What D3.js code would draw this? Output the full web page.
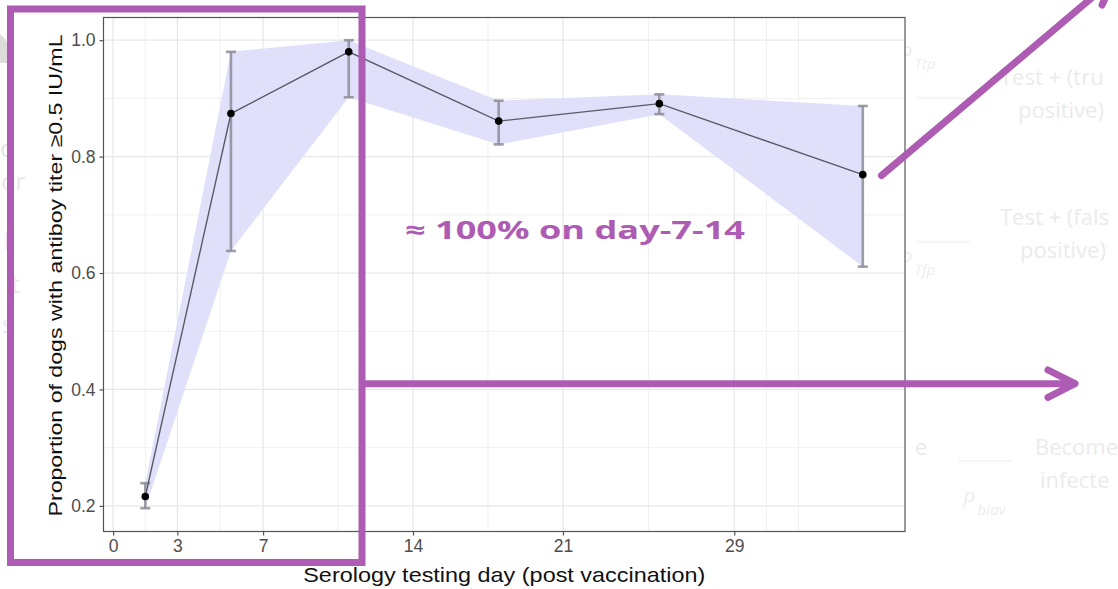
<!DOCTYPE html>
<html>
<head>
<meta charset="utf-8">
<script src="https://cdn.jsdelivr.net/npm/d3@7"></script>
<style>
  html, body { margin: 0; padding: 0; background: #ffffff; }
  svg { display: block; }
</style>
</head>
<body>
<svg id="chart" width="1118" height="589"></svg>
<script>
// Serology testing: proportion of dogs with antibody titer >= 0.5 IU/mL
const days       = [1.5, 5.5, 11, 18, 25.5, 35];
const proportion = [0.216, 0.874, 0.980, 0.861, 0.891, 0.769];
const lower      = [0.196, 0.638, 0.902, 0.821, 0.873, 0.611];
const upper      = [0.239, 0.980, 1.000, 0.896, 0.907, 0.887];

const xTicks      = [0, 3, 7, 14, 21, 29];
const xMinorTicks = [1.5, 5, 10.5, 17.5, 25, 30.5, 32];
const yTicks      = [0.2, 0.4, 0.6, 0.8, 1.0];
const yMinorTicks = [0.3, 0.5, 0.7, 0.9];

const xTitle = "Serology testing day (post vaccination)";
const yTitle = "Proportion of dogs with antiboy titer \u22650.5 IU/mL";
const callout = "\u2248 100% on day-7-14";

const rows = days.map((d, i) => ({ day: d, p: proportion[i], lo: lower[i], hi: upper[i] }));

const svg = d3.select("#chart");
const panel = { left: 103.5, right: 905, top: 17.5, bottom: 531.5 };

const x = d3.scaleLinear().domain([-0.45, 36.97]).range([panel.left, panel.right]);
const y = d3.scaleLinear().domain([0.156, 1.039]).range([panel.bottom, panel.top]);

// faint slide diagram behind the plot
const faint = svg.append("g").attr("font-family", "'Open Sans', 'Noto Sans', sans-serif");
const fText = [
  { t: "Test + (tru", x: 1000, y: 85, s: 22 },
  { t: "positive)", x: 1018, y: 118, s: 22 },
  { t: "Test + (fals", x: 1000, y: 225, s: 22 },
  { t: "positive)", x: 1020, y: 258, s: 22 },
  { t: "Become", x: 1035, y: 455, s: 22 },
  { t: "infecte", x: 1040, y: 488, s: 22 },
  { t: "e", x: 915, y: 455, s: 22 }
];
faint.selectAll("text.f").data(fText).join("text")
  .attr("class", "f")
  .attr("x", d => d.x).attr("y", d => d.y)
  .attr("font-size", d => d.s)
  .attr("fill", "#ebebeb")
  .text(d => d.t);
const pLabels = [
  { sub: "Ttp", x: 899, y: 62 },
  { sub: "Tfp", x: 899, y: 268 },
  { sub: "biav", x: 962, y: 508 }
];
pLabels.forEach(p => {
  const t = faint.append("text")
    .attr("x", p.x).attr("y", p.y)
    .attr("font-size", 22).attr("font-style", "italic").attr("fill", "#eeeeee");
  t.append("tspan").text("P");
  t.append("tspan").attr("dy", 7).attr("dx", 3).attr("font-size", 15).text(p.sub);
});
[[917, 970, 98], [917, 970, 242], [958, 1012, 461]].forEach(s => {
  faint.append("line").attr("x1", s[0]).attr("x2", s[1]).attr("y1", s[2]).attr("y2", s[2])
    .attr("stroke", "#eeeeee").attr("stroke-width", 1.2);
});
// fragments at the left margin
faint.append("path").attr("d", "M0,34 L6,40 L9,50 L8,63 L0,63 Z").attr("fill", "#dcdcdc");
[
  { t: "o", x: 0, y: 157, c: "#e4e4e4" },
  { t: "or", x: 1, y: 190, c: "#e8e8e8" },
  { t: "ll", x: 4, y: 250, c: "#f1dcef" },
  { t: "it", x: 5, y: 293, c: "#f3e2f1" },
  { t: "s", x: 2, y: 333, c: "#f3e2f1" }
].forEach(d => {
  faint.append("text").attr("x", d.x).attr("y", d.y).attr("font-size", 24)
    .attr("fill", d.c).text(d.t);
});

// panel background
svg.append("rect")
  .attr("x", panel.left).attr("y", panel.top)
  .attr("width", panel.right - panel.left).attr("height", panel.bottom - panel.top)
  .attr("fill", "#ffffff");

// grid
const grid = svg.append("g");
grid.selectAll("line.ymin").data(yMinorTicks).join("line")
  .attr("x1", panel.left).attr("x2", panel.right)
  .attr("y1", d => y(d)).attr("y2", d => y(d))
  .attr("stroke", "#f0f0f0").attr("stroke-width", 1);
grid.selectAll("line.xmin").data(xMinorTicks).join("line")
  .attr("y1", panel.top).attr("y2", panel.bottom)
  .attr("x1", d => x(d)).attr("x2", d => x(d))
  .attr("stroke", "#f0f0f0").attr("stroke-width", 1);
grid.selectAll("line.ymaj").data(yTicks).join("line")
  .attr("x1", panel.left).attr("x2", panel.right)
  .attr("y1", d => y(d)).attr("y2", d => y(d))
  .attr("stroke", "#e8e8e8").attr("stroke-width", 1.3);
grid.selectAll("line.xmaj").data(xTicks).join("line")
  .attr("y1", panel.top).attr("y2", panel.bottom)
  .attr("x1", d => x(d)).attr("x2", d => x(d))
  .attr("stroke", "#e8e8e8").attr("stroke-width", 1.3);

// confidence ribbon
const area = d3.area().x(d => x(d.day)).y0(d => y(d.lo)).y1(d => y(d.hi));
svg.append("path").datum(rows)
  .attr("d", area)
  .attr("fill", "#e0e0fa");

// error bars
const eb = svg.append("g").attr("stroke", "#8c8c9a").attr("stroke-opacity", 0.85);
eb.selectAll("line.v").data(rows).join("line")
  .attr("x1", d => x(d.day)).attr("x2", d => x(d.day))
  .attr("y1", d => y(d.lo)).attr("y2", d => y(d.hi))
  .attr("stroke-width", 2.6);
["lo", "hi"].forEach(k => {
  eb.selectAll("line.c" + k).data(rows).join("line")
    .attr("x1", d => x(d.day) - 5).attr("x2", d => x(d.day) + 5)
    .attr("y1", d => y(d[k])).attr("y2", d => y(d[k]))
    .attr("stroke-width", 2.6);
});

// mean line and points
const line = d3.line().x(d => x(d.day)).y(d => y(d.p));
svg.append("path").datum(rows)
  .attr("d", line)
  .attr("fill", "none")
  .attr("stroke", "#5a5a66")
  .attr("stroke-width", 1.4);
svg.selectAll("circle.pt").data(rows).join("circle")
  .attr("cx", d => x(d.day)).attr("cy", d => y(d.p))
  .attr("r", 3.8).attr("fill", "#000000");

// panel border
svg.append("rect")
  .attr("x", panel.left).attr("y", panel.top)
  .attr("width", panel.right - panel.left).attr("height", panel.bottom - panel.top)
  .attr("fill", "none").attr("stroke", "#555555").attr("stroke-width", 1.2);

// axes
const xAxis = d3.axisBottom(x).tickValues(xTicks).tickFormat(d3.format("d")).tickSize(4).tickPadding(4);
const yAxis = d3.axisLeft(y).tickValues(yTicks).tickFormat(d3.format(".1f")).tickSize(4).tickPadding(4);
const gx = svg.append("g").attr("transform", `translate(0,${panel.bottom})`).call(xAxis);
const gy = svg.append("g").attr("transform", `translate(${panel.left},0)`).call(yAxis);
[gx, gy].forEach(g => {
  g.select(".domain").remove();
  g.selectAll(".tick line").attr("stroke", "#555555").attr("stroke-width", 1.2);
  g.selectAll(".tick text")
    .attr("font-family", "'Liberation Sans', Arial, sans-serif")
    .attr("font-size", 17.5)
    .attr("fill", "#4d4d4d");
});

svg.append("text")
  .attr("x", (panel.left + panel.right) / 2).attr("y", 582)
  .attr("text-anchor", "middle")
  .attr("font-family", "'Liberation Sans', Arial, sans-serif")
  .attr("font-size", 21).attr("fill", "#111111")
  .attr("textLength", 402).attr("lengthAdjust", "spacingAndGlyphs")
  .text(xTitle);
svg.append("text")
  .attr("transform", `translate(61.5,${(panel.top + panel.bottom) / 2 + 1}) rotate(-90)`)
  .attr("text-anchor", "middle")
  .attr("font-family", "'Liberation Sans', Arial, sans-serif")
  .attr("font-size", 18.5).attr("fill", "#111111")
  .attr("textLength", 482).attr("lengthAdjust", "spacingAndGlyphs")
  .text(yTitle);

// annotations
const purple = "#ad5bb3";
const ann = svg.append("g").attr("stroke", purple).attr("fill", "none")
  .attr("stroke-width", 7).attr("stroke-linecap", "round").attr("stroke-linejoin", "round");
ann.append("rect").attr("x", 10.5).attr("y", 9).attr("width", 351.5).attr("height", 553.5)
  .attr("stroke-linecap", "butt").attr("stroke-linejoin", "miter");
ann.append("line").attr("x1", 362).attr("y1", 383.7).attr("x2", 1073).attr("y2", 383.7)
  .attr("stroke-linecap", "butt");
ann.append("path").attr("d", "M1048,370 L1075,383.7 L1048,397.4");
ann.append("line").attr("x1", 881.5).attr("y1", 175.5).attr("x2", 1114).attr("y2", -21);
ann.append("path").attr("d", "M1102,5 L1114,-21 L1086,-17");

svg.append("text")
  .attr("x", 405).attr("y", 239)
  .attr("font-family", "'Open Sans', Lato, sans-serif")
  .attr("font-weight", 700)
  .attr("font-size", 25)
  .attr("fill", purple)
  .attr("textLength", 340).attr("lengthAdjust", "spacingAndGlyphs")
  .text(callout);
</script>
</body>
</html>
